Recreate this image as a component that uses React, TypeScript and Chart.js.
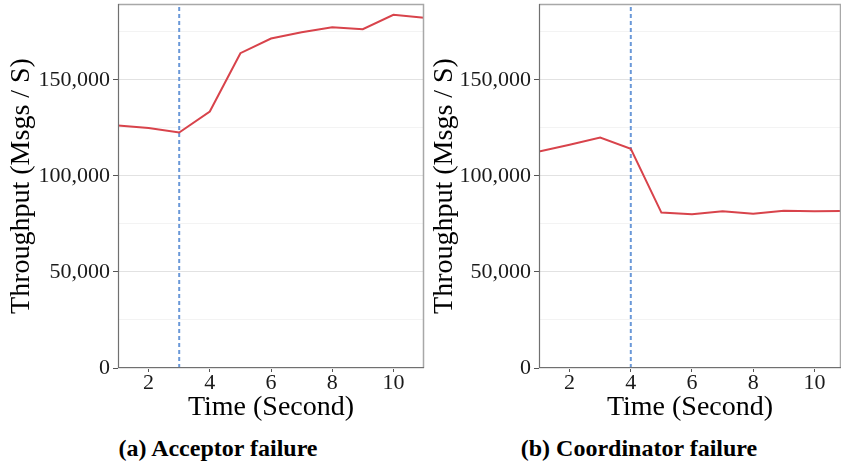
import React, { useEffect, useRef } from "react";
import { Chart, registerables } from "chart.js";

Chart.register(...registerables);

// ---------- data ----------
const timeSeconds = [1, 2, 3, 4, 5, 6, 7, 8, 9, 10, 11];
const acceptorThroughput = [126300, 125000, 122600, 133500, 163900, 171500, 174800, 177400, 176400, 183900, 182400];
const coordinatorThroughput = [112700, 116200, 120000, 114100, 80900, 80100, 81600, 80300, 81800, 81600, 81800];
const acceptorFailureTime = 3;
const coordinatorFailureTime = 4;
const xTickValues = [2, 4, 6, 8, 10];
const yMajorTicks = [0, 50000, 100000, 150000];
const yMinorTicks = [25000, 75000, 125000, 175000];
const yAxisMax = 189500;
const xAxisTitle = "Time (Second)";
const yAxisTitle = "Throughput (Msgs / S)";
const captionA = "(a) Acceptor failure";
const captionB = "(b) Coordinator failure";

const FONT = "'Liberation Serif', 'Times New Roman', serif";

const framePlugin = {
  id: "frame",
  afterDraw(chart: any) {
    const { ctx, chartArea } = chart;
    const { left, right, top, bottom } = chartArea;
    ctx.save();
    ctx.strokeStyle = "#a8a8a8";
    ctx.lineWidth = 1.5;
    ctx.beginPath();
    ctx.moveTo(left, top + 0.5);
    ctx.lineTo(right - 0.5, top + 0.5);
    ctx.lineTo(right - 0.5, bottom);
    ctx.stroke();
    ctx.strokeStyle = "#707070";
    ctx.lineWidth = 1.2;
    ctx.beginPath();
    ctx.moveTo(left + 0.5, top);
    ctx.lineTo(left + 0.5, bottom - 0.5);
    ctx.lineTo(right, bottom - 0.5);
    ctx.stroke();
    ctx.restore();
  },
};

type PanelProps = {
  values: number[];
  failureAt: number;
  xMax: number;
  width: number;
  height: number;
  yAxisWidth: number;
  yTitlePad: number;
  rightPad: number;
};

function Panel({ values, failureAt, xMax, width, height, yAxisWidth, yTitlePad, rightPad }: PanelProps) {
  const ref = useRef<HTMLCanvasElement | null>(null);
  useEffect(() => {
    if (!ref.current) return;
    const plotBottom = 368;
    const topPad = 4;
    const xAxisHeight = height - plotBottom;
    const chart = new Chart(ref.current, {
      type: "line",
      data: {
        datasets: [
          {
            data: timeSeconds.map((t, i) => ({ x: t, y: values[i] })),
            borderColor: "#d8434b",
            borderWidth: 2,
            pointRadius: 0,
            fill: false,
            tension: 0,
          },
          {
            data: [
              { x: failureAt, y: 0 },
              { x: failureAt, y: yAxisMax },
            ],
            borderColor: "#6a98d8",
            borderWidth: 2,
            borderDash: [4, 3],
            pointRadius: 0,
            fill: false,
          },
        ],
      },
      options: {
        responsive: false,
        animation: false,
        events: [],
        layout: { padding: { top: topPad, right: rightPad, left: 0, bottom: 0 } },
        plugins: { legend: { display: false }, tooltip: { enabled: false } },
        scales: {
          x: {
            type: "linear",
            min: 1,
            max: xMax,
            grid: {
              display: true,
              drawOnChartArea: false,
              drawTicks: true,
              tickLength: 4,
              color: "rgba(0,0,0,0)",
              tickColor: "#555",
            },
            border: { display: false },
            afterBuildTicks: (scale: any) => {
              scale.ticks = xTickValues.map((v) => ({ value: v }));
            },
            afterFit: (scale: any) => {
              scale.height = xAxisHeight;
              scale.paddingLeft = 0;
              scale.paddingRight = 0;
            },
            ticks: {
              padding: -2,
              color: "#1a1a1a",
              font: { family: FONT, size: 22 },
              maxRotation: 0,
              autoSkip: false,
              callback: (v: any) => String(v),
            },
            title: {
              display: true,
              text: xAxisTitle,
              color: "#000",
              font: { family: FONT, size: 28 },
              padding: { top: 0, bottom: 1 },
            },
          },
          y: {
            type: "linear",
            min: 0,
            max: yAxisMax,
            border: { display: false },
            grid: {
              drawTicks: true,
              tickLength: 5,
              color: (ctx: any) =>
                yMajorTicks.includes(ctx.tick?.value) ? "#e2e2e2" : "#f3f3f3",
              tickColor: (ctx: any) =>
                yMajorTicks.includes(ctx.tick?.value) ? "#555" : "rgba(0,0,0,0)",
              lineWidth: 1,
            },
            afterBuildTicks: (scale: any) => {
              scale.ticks = [...yMajorTicks, ...yMinorTicks]
                .sort((a, b) => a - b)
                .map((v) => ({ value: v }));
            },
            afterFit: (scale: any) => {
              scale.width = yAxisWidth;
              scale.paddingTop = 0;
              scale.paddingBottom = 0;
            },
            ticks: {
              padding: 3,
              color: "#1a1a1a",
              font: { family: FONT, size: 22 },
              autoSkip: false,
              callback: (v: any) =>
                yMajorTicks.includes(v) ? Number(v).toLocaleString("en-US") : "",
            },
            title: {
              display: true,
              text: yAxisTitle,
              color: "#000",
              font: { family: FONT, size: 28 },
              padding: { top: yTitlePad, bottom: 0 },
            },
          },
        },
      } as any,
      plugins: [framePlugin],
    });
    return () => chart.destroy();
  }, []);
  return <canvas ref={ref} width={width} height={height} style={{ display: "block" }} />;
}

const captionStyle: React.CSSProperties = {
  position: "absolute",
  top: 433,
  fontFamily: FONT,
  fontWeight: "bold",
  fontSize: 24,
  lineHeight: "30px",
  textAlign: "center",
  color: "#000",
  whiteSpace: "nowrap",
};

export default function App() {
  return (
    <div
      style={{
        position: "fixed",
        left: 0,
        top: 0,
        width: 841,
        height: 463,
        background: "#fff",
        overflow: "hidden",
      }}
    >
      <div style={{ position: "absolute", left: 0, top: 0 }}>
        <Panel
          values={acceptorThroughput}
          failureAt={acceptorFailureTime}
          xMax={11}
          width={426}
          height={425}
          yAxisWidth={118}
          yTitlePad={5}
          rightPad={2}
        />
      </div>
      <div style={{ position: "absolute", left: 426, top: 0 }}>
        <Panel
          values={coordinatorThroughput}
          failureAt={coordinatorFailureTime}
          xMax={10.87}
          width={415}
          height={425}
          yAxisWidth={113}
          yTitlePad={2}
          rightPad={0}
        />
      </div>
      <div style={{ ...captionStyle, left: 68, width: 300 }}>{captionA}</div>
      <div style={{ ...captionStyle, left: 489, width: 300 }}>{captionB}</div>
    </div>
  );
}
